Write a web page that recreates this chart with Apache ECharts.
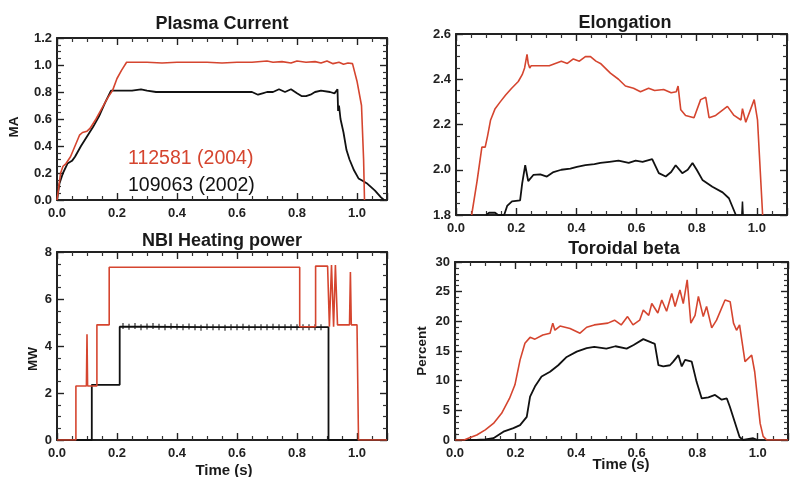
<!DOCTYPE html>
<html><head><meta charset="utf-8">
<script src="https://cdn.jsdelivr.net/npm/echarts@6/dist/echarts.min.js"></script>
<style>html,body{margin:0;padding:0;background:#fff}#c{width:791px;height:477px}</style>
</head><body><div id="c"></div>
<script>
// ---------- DATA ----------
const panelTitles = ['Plasma Current', 'Elongation', 'NBI Heating power', 'Toroidal beta'];
const yNames = ['MA', '', 'MW', 'Percent'];
const xName = 'Time (s)';
const shotLabels = ['112581 (2004)', '109063 (2002)'];

const plasmaRed = [[0,0],[0.005,0.08],[0.012,0.2],[0.02,0.25],[0.03,0.27],[0.045,0.32],[0.06,0.4],[0.075,0.48],[0.085,0.5],[0.1,0.51],[0.11,0.53],[0.13,0.6],[0.15,0.68],[0.17,0.76],[0.185,0.81],[0.2,0.9],[0.215,0.96],[0.232,1.02],[0.26,1.02],[0.3,1.02],[0.35,1.015],[0.4,1.02],[0.45,1.02],[0.5,1.02],[0.55,1.015],[0.6,1.02],[0.65,1.02],[0.7,1.03],[0.72,1.02],[0.75,1.025],[0.78,1.015],[0.8,1.03],[0.83,1.02],[0.86,1.025],[0.88,1.015],[0.9,1.03],[0.92,1.01],[0.94,1.02],[0.955,1.005],[0.97,1.015],[0.985,1.01],[1.0,0.88],[1.015,0.7],[1.022,0.3],[1.025,0]];
const plasmaBlack = [[0,0],[0.008,0.12],[0.02,0.2],[0.035,0.27],[0.05,0.29],[0.06,0.32],[0.08,0.4],[0.1,0.47],[0.12,0.54],[0.14,0.62],[0.16,0.72],[0.18,0.81],[0.2,0.81],[0.25,0.81],[0.28,0.82],[0.3,0.81],[0.33,0.8],[0.4,0.8],[0.5,0.8],[0.6,0.8],[0.65,0.8],[0.67,0.78],[0.685,0.79],[0.7,0.8],[0.72,0.8],[0.74,0.82],[0.76,0.8],[0.78,0.82],[0.8,0.79],[0.815,0.77],[0.83,0.77],[0.845,0.78],[0.86,0.8],[0.88,0.81],[0.91,0.8],[0.925,0.79],[0.935,0.82],[0.937,0.66],[0.94,0.7],[0.945,0.6],[0.955,0.5],[0.965,0.37],[0.975,0.3],[0.99,0.22],[1.005,0.16],[1.02,0.14],[1.035,0.12],[1.06,0.07],[1.08,0.02],[1.09,0]];

const elongRed = [[0.052,1.8],[0.07,1.95],[0.086,2.1],[0.097,2.1],[0.105,2.15],[0.115,2.22],[0.13,2.27],[0.147,2.3],[0.165,2.33],[0.185,2.36],[0.207,2.39],[0.22,2.42],[0.228,2.45],[0.236,2.51],[0.24,2.47],[0.245,2.45],[0.25,2.46],[0.28,2.46],[0.31,2.46],[0.33,2.47],[0.35,2.48],[0.37,2.47],[0.39,2.49],[0.41,2.48],[0.43,2.5],[0.447,2.5],[0.465,2.48],[0.48,2.47],[0.513,2.427],[0.54,2.4],[0.563,2.37],[0.59,2.36],[0.613,2.345],[0.64,2.36],[0.66,2.35],[0.69,2.355],[0.715,2.34],[0.732,2.345],[0.738,2.37],[0.747,2.265],[0.763,2.24],[0.791,2.23],[0.813,2.31],[0.83,2.32],[0.841,2.23],[0.863,2.24],[0.902,2.28],[0.924,2.24],[0.947,2.22],[0.952,2.27],[0.963,2.21],[0.991,2.31],[1.002,2.22],[1.019,1.8]];
const elongBlack = [[0.1,1.8],[0.11,1.81],[0.13,1.81],[0.14,1.8],[0.16,1.8],[0.17,1.84],[0.186,1.86],[0.213,1.865],[0.22,1.94],[0.23,2.02],[0.24,1.95],[0.257,1.977],[0.28,1.98],[0.302,1.97],[0.324,1.99],[0.35,2.0],[0.38,2.005],[0.402,2.013],[0.43,2.02],[0.46,2.025],[0.48,2.03],[0.51,2.035],[0.54,2.04],[0.574,2.03],[0.597,2.04],[0.62,2.035],[0.652,2.047],[0.674,1.985],[0.697,1.97],[0.715,1.99],[0.73,2.02],[0.752,1.985],[0.77,2.0],[0.786,2.03],[0.8,2.0],[0.819,1.955],[0.852,1.925],[0.886,1.9],[0.907,1.874],[0.93,1.8]];
const elongBlackSpike = [[0.95,1.8],[0.952,1.86],[0.954,1.8]];

const nbiRed = [[0,0],[0.063,0],[0.063,2.3],[0.098,2.3],[0.1,4.5],[0.102,2.3],[0.133,2.3],[0.133,4.9],[0.174,4.9],[0.174,7.35],[0.3,7.35],[0.5,7.35],[0.7,7.35],[0.809,7.35],[0.809,4.82],[0.862,4.82],[0.862,7.4],[0.902,7.4],[0.908,4.82],[0.915,7.45],[0.922,4.82],[0.928,7.45],[0.935,4.9],[0.975,4.9],[0.978,7.15],[0.981,4.9],[1.0,4.9],[1.005,0],[1.1,0]];
const nbiBlack = [[0,0],[0.116,0],[0.116,2.35],[0.209,2.35],[0.209,4.82],[0.3,4.82],[0.5,4.8],[0.7,4.8],[0.905,4.8],[0.905,0],[1.0,0]];
const nbiBlackSamples = [[0.22,4.85],[0.24,4.82],[0.26,4.85],[0.28,4.8],[0.3,4.83],[0.32,4.85],[0.34,4.82],[0.36,4.8],[0.38,4.84],[0.4,4.82],[0.42,4.8],[0.44,4.83],[0.46,4.8],[0.48,4.78],[0.5,4.82],[0.52,4.8],[0.54,4.8],[0.56,4.78],[0.58,4.8],[0.6,4.8],[0.62,4.82],[0.64,4.78],[0.66,4.8],[0.68,4.8],[0.7,4.8],[0.72,4.82],[0.74,4.8],[0.76,4.8],[0.78,4.8],[0.8,4.8],[0.82,4.8],[0.84,4.8],[0.86,4.8],[0.88,4.8]];

const betaRed = [[0,0],[0.03,0],[0.044,0.3],[0.072,0.85],[0.1,1.7],[0.127,2.8],[0.154,4.5],[0.18,7],[0.198,9.3],[0.215,13.5],[0.231,16.3],[0.248,17.3],[0.264,17.0],[0.29,17.7],[0.314,18],[0.323,19.7],[0.33,18.5],[0.347,19.2],[0.38,18.8],[0.413,18],[0.435,19],[0.46,19.4],[0.505,19.7],[0.527,20.2],[0.549,19.4],[0.57,20.8],[0.588,19.4],[0.61,20.2],[0.622,21.9],[0.64,21],[0.65,23],[0.67,21.4],[0.683,23.6],[0.699,21.7],[0.716,24.7],[0.727,22.5],[0.743,25.3],[0.754,23],[0.767,27],[0.779,19.7],[0.793,21],[0.804,24.2],[0.82,20.8],[0.831,22.5],[0.848,18.9],[0.864,20.2],[0.892,23.6],[0.909,23.3],[0.92,19.7],[0.93,18.5],[0.94,19.4],[0.958,13.2],[0.98,14.3],[0.99,11.5],[1.008,2.8],[1.018,0.6],[1.03,0],[1.1,0]];
const betaBlack = [[0,0],[0.07,0],[0.1,0.1],[0.127,0.3],[0.16,1.4],[0.193,2.0],[0.215,2.5],[0.237,3.9],[0.248,7.3],[0.264,9],[0.286,10.7],[0.314,11.5],[0.341,12.6],[0.369,14],[0.402,14.9],[0.435,15.5],[0.46,15.7],[0.5,15.4],[0.53,15.8],[0.567,15.4],[0.59,16],[0.622,17],[0.65,16.4],[0.66,16.2],[0.672,12.6],[0.688,12.4],[0.71,12.6],[0.721,13.2],[0.738,14.3],[0.749,12.4],[0.76,13.5],[0.782,13.2],[0.798,9.8],[0.815,7],[0.837,7.2],[0.859,7.6],[0.881,6.8],[0.898,7],[0.908,5.6],[0.94,0.5],[0.952,0],[0.985,0.3],[1.0,0]];

// ---------- LAYOUT ----------
const RED = '#d5452f', BLK = '#111', AX = '#222';
const FONT = 'Liberation Sans, Arial, sans-serif';
const grids = [
  {left:57, top:38, width:330, height:162},
  {left:456, top:34, width:331, height:181},
  {left:57, top:252, width:330, height:188},
  {left:455, top:262, width:333, height:178}
];
const yRanges = [
  {min:0, max:1.2, interval:0.2, minor:4, fmt:v=>v.toFixed(1)},
  {min:1.8, max:2.6, interval:0.2, minor:4, fmt:v=>v.toFixed(1)},
  {min:0, max:8, interval:2, minor:4, fmt:v=>String(Math.round(v))},
  {min:0, max:30, interval:5, minor:5, fmt:v=>String(Math.round(v))}
];
const xFmt = v => v > 1.05 ? '' : v.toFixed(1);

function axisCommon(showLabel, fmt, margin, minorSplit) {
  return {
    axisLine: {show:true, onZero:false, lineStyle:{color:AX, width:2}},
    axisTick: {show:true, inside:true, length:7, lineStyle:{color:AX, width:1.4}},
    minorTick: {show:true, splitNumber:minorSplit, length:4, lineStyle:{color:'#333', width:1.2}},
    splitLine: {show:false},
    minorSplitLine: {show:false},
    axisLabel: {show:showLabel, formatter:fmt, color:'#222', fontFamily:FONT, fontWeight:'bold', fontSize:13, margin:margin}
  };
}
const xAxes = [], yAxes = [];
for (let i = 0; i < 4; i++) {
  ['bottom','top'].forEach((pos, k) => {
    xAxes[k*4+i] = Object.assign({type:'value', gridIndex:i, position:pos, min:0, max:1.1, interval:0.2}, axisCommon(k===0, xFmt, 7, 4));
  });
  ['left','right'].forEach((pos, k) => {
    const r = yRanges[i];
    yAxes[k*4+i] = Object.assign({type:'value', gridIndex:i, position:pos, min:r.min, max:r.max, interval:r.interval}, axisCommon(k===0, r.fmt, 5, r.minor));
  });
}

function line(idx, data, color, width, z) {
  return {type:'line', xAxisIndex:idx, yAxisIndex:idx, data:data, showSymbol:false, symbol:'none',
    lineStyle:{color:color, width:width}, z:z, clip:true, animation:false};
}
const series = [
  line(0, plasmaBlack, BLK, 1.8, 2), line(0, plasmaRed, RED, 1.6, 3),
  line(1, elongBlack, BLK, 1.8, 2), line(1, elongBlackSpike, BLK, 1.5, 2), line(1, elongRed, RED, 1.6, 3),
  line(2, nbiBlack, BLK, 1.8, 2), line(2, nbiRed, RED, 1.6, 3),
  {type:'scatter', xAxisIndex:2, yAxisIndex:2, data:nbiBlackSamples, symbol:'rect', symbolSize:[1.3,6], itemStyle:{color:BLK}, z:2, animation:false, silent:true},
  line(3, betaBlack, BLK, 1.8, 2), line(3, betaRed, RED, 1.6, 3)
];

function txt(s, x, y, size, color, weight, rot) {
  return {type:'text', x:x, y:y, rotation:rot||0, silent:true,
    style:{text:s, fontSize:size, fontFamily:FONT, fontWeight:weight, fill:color, align:'center', verticalAlign:'middle'}};
}
const titlePos = [[222,24],[625,23],[222,241],[624,249]];
const graphics = [];
panelTitles.forEach((t,i) => graphics.push(txt(t, titlePos[i][0], titlePos[i][1], 18, '#1a1a1a', 'bold')));
const yNamePos = [[14,127],[0,0],[33,359],[422,351]];
yNames.forEach((n,i) => { if (n) graphics.push(txt(n, yNamePos[i][0], yNamePos[i][1], 13.5, '#1a1a1a', 'bold', Math.PI/2)); });
graphics.push(txt(xName, 224, 471, 15, '#1a1a1a', 'bold'));
graphics.push(txt(xName, 621, 465, 15, '#1a1a1a', 'bold'));
graphics.push({type:'text', x:128, y:159, silent:true, style:{text:shotLabels[0], fontSize:19.5, fontFamily:FONT, fill:RED, align:'left', verticalAlign:'middle'}});
graphics.push({type:'text', x:128, y:186, silent:true, style:{text:shotLabels[1], fontSize:19.5, fontFamily:FONT, fill:'#111', align:'left', verticalAlign:'middle'}});

const chart = echarts.init(document.getElementById('c'), null, {renderer:'canvas'});
chart.setOption({
  animation:false, backgroundColor:'#fff',
  grid: grids, xAxis: xAxes, yAxis: yAxes, series: series, graphic: graphics
});
</script>
</body></html>
